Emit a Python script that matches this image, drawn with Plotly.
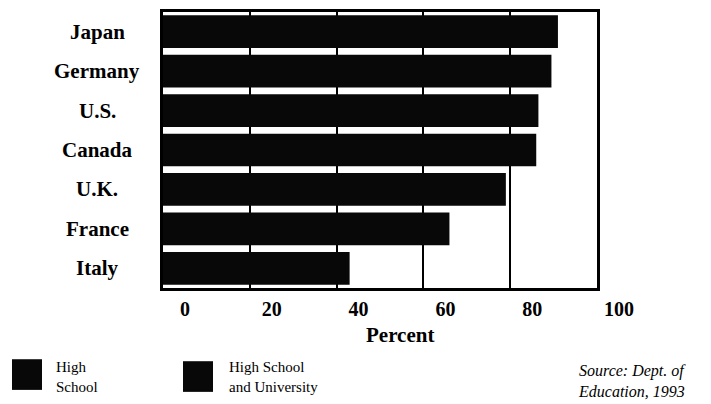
import plotly.graph_objects as go

countries = ["Japan", "Germany", "U.S.", "Canada", "U.K.", "France", "Italy"]
percent = [91, 89.5, 86.5, 86, 79, 66, 43]
x_ticks = [0, 20, 40, 60, 80, 100]
x_tick_labels = ["0", "20", "40", "60", "80", "100"]
legend_labels = ["High<br>School", "High School<br>and University"]

SERIF = "Liberation Serif, Times New Roman, serif"

W, H = 711, 404
L, R, T, B = 163, 114, 9, 116
PW, PH = W - L - R, H - T - B


def px(x):
    return (x - L) / PW


def py(y):
    return (H - B - y) / PH


fig = go.Figure()
fig.add_trace(go.Bar(
    y=countries, x=percent, orientation="h",
    marker=dict(color="#080808", line=dict(width=0)),
    showlegend=False, hoverinfo="x+y",
))

# Category labels centred left of the plot
for c in countries:
    fig.add_annotation(x=px(97), xref="paper", y=c, yref="y", text=f"<b>{c}</b>",
                       showarrow=False, xanchor="center", yanchor="middle",
                       font=dict(family=SERIF, size=21, color="black"))

fig.update_layout(
    width=W, height=H,
    margin=dict(l=L, r=R, t=T, b=B),
    paper_bgcolor="white", plot_bgcolor="white",
    bargap=0.17,
    xaxis=dict(
        range=[0, 100], tickvals=x_ticks, ticktext=x_tick_labels,
        showgrid=True, gridcolor="black", gridwidth=1.5,
        showline=True, linecolor="black", linewidth=2.5, mirror=True,
        zeroline=False, ticks="", ticklabelshift=22, ticklabelstandoff=1,
        tickfont=dict(family=SERIF, size=20, color="black", weight="bold"),
        fixedrange=True,
    ),
    yaxis=dict(
        categoryorder="array", categoryarray=countries[::-1],
        showticklabels=False, showgrid=False,
        showline=True, linecolor="black", linewidth=2.5, mirror=True,
        ticks="", fixedrange=True,
    ),
    showlegend=False,
)

# Axis title
fig.add_annotation(x=px(400), xref="paper", y=py(336), yref="paper",
                   text="<b>Percent</b>", showarrow=False, xanchor="center", yanchor="middle",
                   font=dict(family=SERIF, size=21, color="black"))

# Legend drawn as shapes + text
leg_sq = [(12, 360), (183, 362)]
leg_txt_x = [54, 227]
for (sx, sy), tx, lab in zip(leg_sq, leg_txt_x, legend_labels):
    fig.add_shape(type="rect", xref="paper", yref="paper",
                  x0=px(sx), x1=px(sx + 30), y0=py(sy + 31), y1=py(sy),
                  fillcolor="#080808", line=dict(width=0))
    fig.add_annotation(x=px(tx), xref="paper", y=py(378), yref="paper",
                       text=lab, showarrow=False, xanchor="left", yanchor="middle", align="left",
                       font=dict(family=SERIF, size=15, color="black"))

# Source note
fig.add_annotation(x=px(576), xref="paper", y=py(361), yref="paper",
                   text="<i>Source: Dept. of<br>Education, 1993</i>", showarrow=False,
                   xanchor="left", yanchor="top", align="left",
                   font=dict(family=SERIF, size=16, color="black"))

fig.write_html("out.html", config={"displayModeBar": False},
               post_script="document.body.style.margin='0';document.body.style.overflow='hidden';")
